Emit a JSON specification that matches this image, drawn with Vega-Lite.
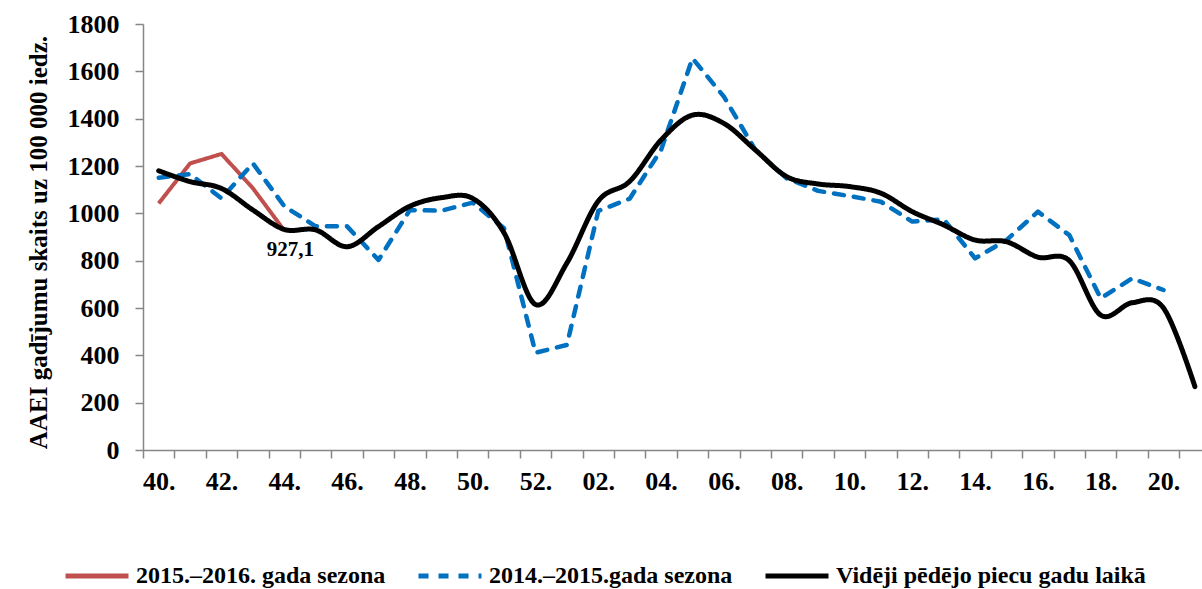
{
  "$schema": "https://vega.github.io/schema/vega-lite/v6.json",
  "autosize": {"type": "none"},
  "padding": {"left": 143, "top": 24, "right": 0, "bottom": 139},
  "width": 1059,
  "height": 426,
  "background": "white",
  "config": {
    "view": {"stroke": null},
    "font": "Liberation Serif",
    "axis": {"grid": false, "domainColor": "#868686", "tickColor": "#868686", "domainWidth": 1.5, "tickWidth": 1.5, "tickSize": 8,
      "labelFont": "Liberation Serif", "labelFontWeight": "bold", "labelFontSize": 26, "labelColor": "#000000",
      "titleFont": "Liberation Serif", "titleFontWeight": "bold", "titleFontSize": 25, "titleColor": "#000000"},
    "legend": {"labelFont": "Liberation Serif", "labelFontWeight": "bold", "labelFontSize": 24, "labelColor": "#000000"}
  },
  "datasets": {
    "series": [
      {"week": "40.", "series": "2015.–2016. gada sezona", "value": 1042},
      {"week": "41.", "series": "2015.–2016. gada sezona", "value": 1211},
      {"week": "42.", "series": "2015.–2016. gada sezona", "value": 1251},
      {"week": "43.", "series": "2015.–2016. gada sezona", "value": 1106},
      {"week": "44.", "series": "2015.–2016. gada sezona", "value": 927.1},
      {"week": "40.", "series": "2014.–2015.gada sezona", "value": 1150},
      {"week": "41.", "series": "2014.–2015.gada sezona", "value": 1166},
      {"week": "42.", "series": "2014.–2015.gada sezona", "value": 1063},
      {"week": "43.", "series": "2014.–2015.gada sezona", "value": 1211},
      {"week": "44.", "series": "2014.–2015.gada sezona", "value": 1030},
      {"week": "45.", "series": "2014.–2015.gada sezona", "value": 945},
      {"week": "46.", "series": "2014.–2015.gada sezona", "value": 945},
      {"week": "47.", "series": "2014.–2015.gada sezona", "value": 803},
      {"week": "48.", "series": "2014.–2015.gada sezona", "value": 1014},
      {"week": "49.", "series": "2014.–2015.gada sezona", "value": 1011},
      {"week": "50.", "series": "2014.–2015.gada sezona", "value": 1045},
      {"week": "51.", "series": "2014.–2015.gada sezona", "value": 937},
      {"week": "52.", "series": "2014.–2015.gada sezona", "value": 411},
      {"week": "01.", "series": "2014.–2015.gada sezona", "value": 444},
      {"week": "02.", "series": "2014.–2015.gada sezona", "value": 1010},
      {"week": "03.", "series": "2014.–2015.gada sezona", "value": 1062},
      {"week": "04.", "series": "2014.–2015.gada sezona", "value": 1268},
      {"week": "05.", "series": "2014.–2015.gada sezona", "value": 1655},
      {"week": "06.", "series": "2014.–2015.gada sezona", "value": 1493},
      {"week": "07.", "series": "2014.–2015.gada sezona", "value": 1268},
      {"week": "08.", "series": "2014.–2015.gada sezona", "value": 1148},
      {"week": "09.", "series": "2014.–2015.gada sezona", "value": 1095},
      {"week": "10.", "series": "2014.–2015.gada sezona", "value": 1073},
      {"week": "11.", "series": "2014.–2015.gada sezona", "value": 1049},
      {"week": "12.", "series": "2014.–2015.gada sezona", "value": 965},
      {"week": "13.", "series": "2014.–2015.gada sezona", "value": 975},
      {"week": "14.", "series": "2014.–2015.gada sezona", "value": 810},
      {"week": "15.", "series": "2014.–2015.gada sezona", "value": 887},
      {"week": "16.", "series": "2014.–2015.gada sezona", "value": 1007},
      {"week": "17.", "series": "2014.–2015.gada sezona", "value": 908},
      {"week": "18.", "series": "2014.–2015.gada sezona", "value": 641},
      {"week": "19.", "series": "2014.–2015.gada sezona", "value": 725},
      {"week": "20.", "series": "2014.–2015.gada sezona", "value": 676},
      {"week": "40.", "series": "Vidēji pēdējo piecu gadu laikā", "value": 1180},
      {"week": "41.", "series": "Vidēji pēdējo piecu gadu laikā", "value": 1134},
      {"week": "42.", "series": "Vidēji pēdējo piecu gadu laikā", "value": 1105},
      {"week": "43.", "series": "Vidēji pēdējo piecu gadu laikā", "value": 1014},
      {"week": "44.", "series": "Vidēji pēdējo piecu gadu laikā", "value": 932},
      {"week": "45.", "series": "Vidēji pēdējo piecu gadu laikā", "value": 930},
      {"week": "46.", "series": "Vidēji pēdējo piecu gadu laikā", "value": 859},
      {"week": "47.", "series": "Vidēji pēdējo piecu gadu laikā", "value": 944},
      {"week": "48.", "series": "Vidēji pēdējo piecu gadu laikā", "value": 1030},
      {"week": "49.", "series": "Vidēji pēdējo piecu gadu laikā", "value": 1066},
      {"week": "50.", "series": "Vidēji pēdējo piecu gadu laikā", "value": 1063},
      {"week": "51.", "series": "Vidēji pēdējo piecu gadu laikā", "value": 917},
      {"week": "52.", "series": "Vidēji pēdējo piecu gadu laikā", "value": 615},
      {"week": "01.", "series": "Vidēji pēdējo piecu gadu laikā", "value": 790},
      {"week": "02.", "series": "Vidēji pēdējo piecu gadu laikā", "value": 1052},
      {"week": "03.", "series": "Vidēji pēdējo piecu gadu laikā", "value": 1135},
      {"week": "04.", "series": "Vidēji pēdējo piecu gadu laikā", "value": 1310},
      {"week": "05.", "series": "Vidēji pēdējo piecu gadu laikā", "value": 1415},
      {"week": "06.", "series": "Vidēji pēdējo piecu gadu laikā", "value": 1380},
      {"week": "07.", "series": "Vidēji pēdējo piecu gadu laikā", "value": 1268},
      {"week": "08.", "series": "Vidēji pēdējo piecu gadu laikā", "value": 1155},
      {"week": "09.", "series": "Vidēji pēdējo piecu gadu laikā", "value": 1124},
      {"week": "10.", "series": "Vidēji pēdējo piecu gadu laikā", "value": 1113},
      {"week": "11.", "series": "Vidēji pēdējo piecu gadu laikā", "value": 1085},
      {"week": "12.", "series": "Vidēji pēdējo piecu gadu laikā", "value": 1007},
      {"week": "13.", "series": "Vidēji pēdējo piecu gadu laikā", "value": 951},
      {"week": "14.", "series": "Vidēji pēdējo piecu gadu laikā", "value": 887},
      {"week": "15.", "series": "Vidēji pēdējo piecu gadu laikā", "value": 880},
      {"week": "16.", "series": "Vidēji pēdējo piecu gadu laikā", "value": 815},
      {"week": "17.", "series": "Vidēji pēdējo piecu gadu laikā", "value": 800},
      {"week": "18.", "series": "Vidēji pēdējo piecu gadu laikā", "value": 570},
      {"week": "19.", "series": "Vidēji pēdējo piecu gadu laikā", "value": 622},
      {"week": "20.", "series": "Vidēji pēdējo piecu gadu laikā", "value": 600},
      {"week": "21.", "series": "Vidēji pēdējo piecu gadu laikā", "value": 268}
    ],
    "note": [
      {"week": "44.", "value": 927.1, "label": "927,1"}
    ]
  },
  "encoding": {
    "x": {
      "field": "week", "type": "nominal",
      "scale": {
        "domain": ["40.","41.","42.","43.","44.","45.","46.","47.","48.","49.","50.","51.","52.","01.","02.","03.","04.","05.","06.","07.","08.","09.","10.","11.","12.","13.","14.","15.","16.","17.","18.","19.","20.","21."],
        "range": [0, 1067.6], "paddingInner": 0, "paddingOuter": 0
      },
      "axis": {"title": null, "labelAngle": 0, "tickBand": "extent", "labelPadding": 10,
        "labelExpr": "parseInt(datum.label) % 2 == 0 ? datum.label : ''"}
    },
    "y": {
      "field": "value", "type": "quantitative",
      "scale": {"domain": [0, 1800], "nice": false, "zero": true},
      "axis": {"title": "AAEI gadījumu skaits uz 100 000 iedz.", "values": [0,200,400,600,800,1000,1200,1400,1600,1800], "format": "d",
        "labelPadding": 16, "titleAngle": -90, "titleX": -105, "titleY": 218, "titleAlign": "center", "titleBaseline": "middle"}
    }
  },
  "layer": [
    {
      "data": {"name": "series"},
      "transform": [{"filter": "datum.series == '2015.–2016. gada sezona'"}],
      "mark": {"type": "line", "strokeWidth": 4, "strokeJoin": "miter"},
      "encoding": {
        "color": {"field": "series", "type": "nominal",
          "scale": {"domain": ["2015.–2016. gada sezona", "2014.–2015.gada sezona", "Vidēji pēdējo piecu gadu laikā"], "range": ["#C0504D", "#0070C0", "#000000"]},
          "legend": {"title": null, "orient": "none", "direction": "horizontal", "legendX": -80, "legendY": 518,
            "symbolType": "stroke", "symbolSize": 3969, "symbolStrokeWidth": 5, "labelFont": "Liberation Serif", "labelFontWeight": "bold",
            "labelFontSize": 24, "labelColor": "#000000", "labelOffset": 5, "columnPadding": 22, "labelLimit": 500}},
        "strokeDash": {"field": "series", "type": "nominal",
          "scale": {"domain": ["2015.–2016. gada sezona", "2014.–2015.gada sezona", "Vidēji pēdējo piecu gadu laikā"], "range": [[1, 0], [10, 10], [1, 0]]},
          "legend": {"title": null, "orient": "none", "direction": "horizontal", "legendX": -80, "legendY": 518,
            "symbolType": "stroke", "symbolSize": 3969, "symbolStrokeWidth": 5, "labelFont": "Liberation Serif", "labelFontWeight": "bold",
            "labelFontSize": 24, "labelColor": "#000000", "labelOffset": 5, "columnPadding": 22, "labelLimit": 500}}
      }
    },
    {
      "data": {"name": "series"},
      "transform": [{"filter": "datum.series == '2014.–2015.gada sezona'"}],
      "mark": {"type": "line", "strokeWidth": 4.5, "strokeJoin": "round", "strokeCap": "round"},
      "encoding": {
        "color": {"field": "series", "type": "nominal"},
        "strokeDash": {"field": "series", "type": "nominal"}
      }
    },
    {
      "data": {"name": "series"},
      "transform": [{"filter": "datum.series == 'Vidēji pēdējo piecu gadu laikā'"}],
      "mark": {"type": "line", "strokeWidth": 5, "interpolate": "cardinal", "tension": 0, "strokeJoin": "round", "strokeCap": "round"},
      "encoding": {
        "color": {"field": "series", "type": "nominal"},
        "strokeDash": {"field": "series", "type": "nominal"}
      }
    },
    {
      "data": {"name": "note"},
      "mark": {"type": "text", "font": "Liberation Serif", "fontWeight": "bold", "fontSize": 21, "color": "#000000", "dx": 6, "dy": 19, "align": "center", "baseline": "middle"},
      "encoding": {"text": {"field": "label", "type": "nominal"}}
    }
  ]
}
